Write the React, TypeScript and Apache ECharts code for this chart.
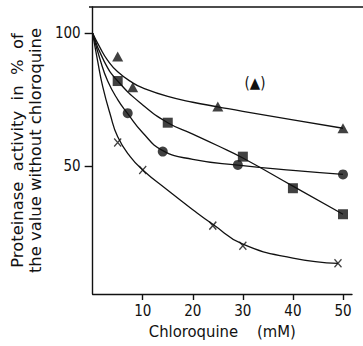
import React, { useEffect, useRef } from "react";
import * as echarts from "echarts";

// Measured points (Chloroquine mM, % activity)
const triX = [5, 8, 25, 50];
const triY = [91.2, 79.7, 72.4, 64.2];
const sqX = [5, 15, 30, 40, 50];
const sqY = [82, 66.3, 53.5, 41.6, 31.8];
const cirX = [7, 14, 29, 50];
const cirY = [69.9, 55.4, 50.4, 46.8];
const crossX = [5, 10, 24, 30, 49];
const crossY = [58.8, 48.5, 27.5, 19.9, 13.3];

// Hand-drawn fitted curves
const triCurveX = [0, 1.5, 3, 5, 8, 10, 15, 20, 25, 30, 40, 50];
const triCurveY = [100, 94.5, 89.8, 85.5, 81.3, 79.4, 76.2, 74, 72.3, 70.6, 67.4, 64.2];
const sqCurveX = [0, 2.3, 5, 10, 15, 20, 25, 30, 40, 50];
const sqCurveY = [100, 89.4, 82, 73, 66.3, 62, 57.6, 53, 42.4, 31.8];
const cirCurveX = [0, 1.5, 3, 5, 7, 10, 14, 20, 29, 40, 50];
const cirCurveY = [100, 90, 82, 75, 69.7, 62.5, 55.8, 52.5, 50.3, 48.3, 46.8];
const crossCurveX = [0, 1, 2, 3.5, 5, 7.5, 10, 15, 20, 24, 30, 40, 49];
const crossCurveY = [100, 89.5, 80, 69.5, 61, 53.5, 48.5, 40.8, 33.5, 28, 20.5, 15.3, 13.3];

const xTicks = [10, 20, 30, 40, 50];
const yTicks = [50, 100];

const xName = "Chloroquine    (mM)";
const yName = "Proteinase  activity  in  %  of\nthe value without chloroquine";

const zip = (xs: number[], ys: number[]) => xs.map((x, i) => [x, ys[i]]);

const FONT_NUM = "'Liberation Sans Narrow', 'DejaVu Sans Condensed', sans-serif";
const FONT_TXT = "'DejaVu Sans Condensed', 'DejaVu Sans', sans-serif";
const FONT_YNAME = "'DejaVu Sans', sans-serif";
const INK = "#111";

export default function App() {
  const ref = useRef<HTMLDivElement>(null);
  useEffect(() => {
    document.body.style.margin = "0";
    if (!ref.current) return;
    const chart = echarts.init(ref.current, undefined, { renderer: "svg" });
    const curve = (xs: number[], ys: number[]) => ({
      type: "line",
      data: zip(xs, ys),
      smooth: 0.5,
      showSymbol: false,
      lineStyle: { color: INK, width: 1.3 },
      z: 2,
    });
    const marks = (xs: number[], ys: number[], symbol: string, size: any, extra: any = {}) => ({
      type: "scatter",
      data: zip(xs, ys),
      symbol,
      symbolSize: size,
      itemStyle: { color: INK, ...extra },
      z: 3,
    });
    chart.setOption({
      animation: false,
      backgroundColor: "#fff",
      grid: { left: 89, top: 7, right: 11, bottom: 52, containLabel: false },
      xAxis: {
        type: "value",
        min: 0,
        max: 51.8,
        splitLine: { show: false },
        axisLine: { lineStyle: { color: INK, width: 1.4 } },
        axisTick: { length: 6, lineStyle: { color: INK, width: 1.4 }, customValues: xTicks },
        axisLabel: { customValues: xTicks, color: INK, fontSize: 15, fontFamily: FONT_NUM, margin: 9 },
        name: xName,
        nameLocation: "middle",
        nameGap: 29,
        nameTextStyle: { color: INK, fontSize: 16.5, fontFamily: FONT_TXT },
      },
      yAxis: {
        type: "value",
        min: 1.74,
        max: 109.9,
        splitLine: { show: false },
        axisLine: { lineStyle: { color: INK, width: 1.4 } },
        axisTick: { length: 8, lineStyle: { color: INK, width: 1.4 }, customValues: yTicks },
        axisLabel: { customValues: yTicks, color: INK, fontSize: 15, fontFamily: FONT_NUM, margin: 12 },
        name: yName,
        nameLocation: "middle",
        nameRotate: 90,
        nameGap: 45,
        nameTextStyle: { color: INK, fontSize: 16.4, lineHeight: 18, fontFamily: FONT_YNAME },
      },
      graphic: [
        { type: "line", shape: { x1: 89, y1: 7, x2: 363, y2: 7 }, style: { stroke: INK, lineWidth: 1.4 } },
        { type: "text", x: 255, y: 83, style: { text: "(▲)", fill: INK, fontSize: 15, fontFamily: FONT_TXT, align: "center", verticalAlign: "middle" } },
      ],
      series: [
        curve(triCurveX, triCurveY),
        curve(sqCurveX, sqCurveY),
        curve(cirCurveX, cirCurveY),
        curve(crossCurveX, crossCurveY),
        marks(triX, triY, "triangle", [11, 10]),
        marks(sqX, sqY, "rect", 10),
        marks(cirX, cirY, "circle", 10),
        marks(crossX, crossY, "path://M0,0L10,12M10,0L0,12", [7, 8], { color: "none", borderColor: INK, borderWidth: 1.4 }),
      ],
    });
    return () => chart.dispose();
  }, []);
  return <div ref={ref} style={{ width: 363, height: 346 }} />;
}
